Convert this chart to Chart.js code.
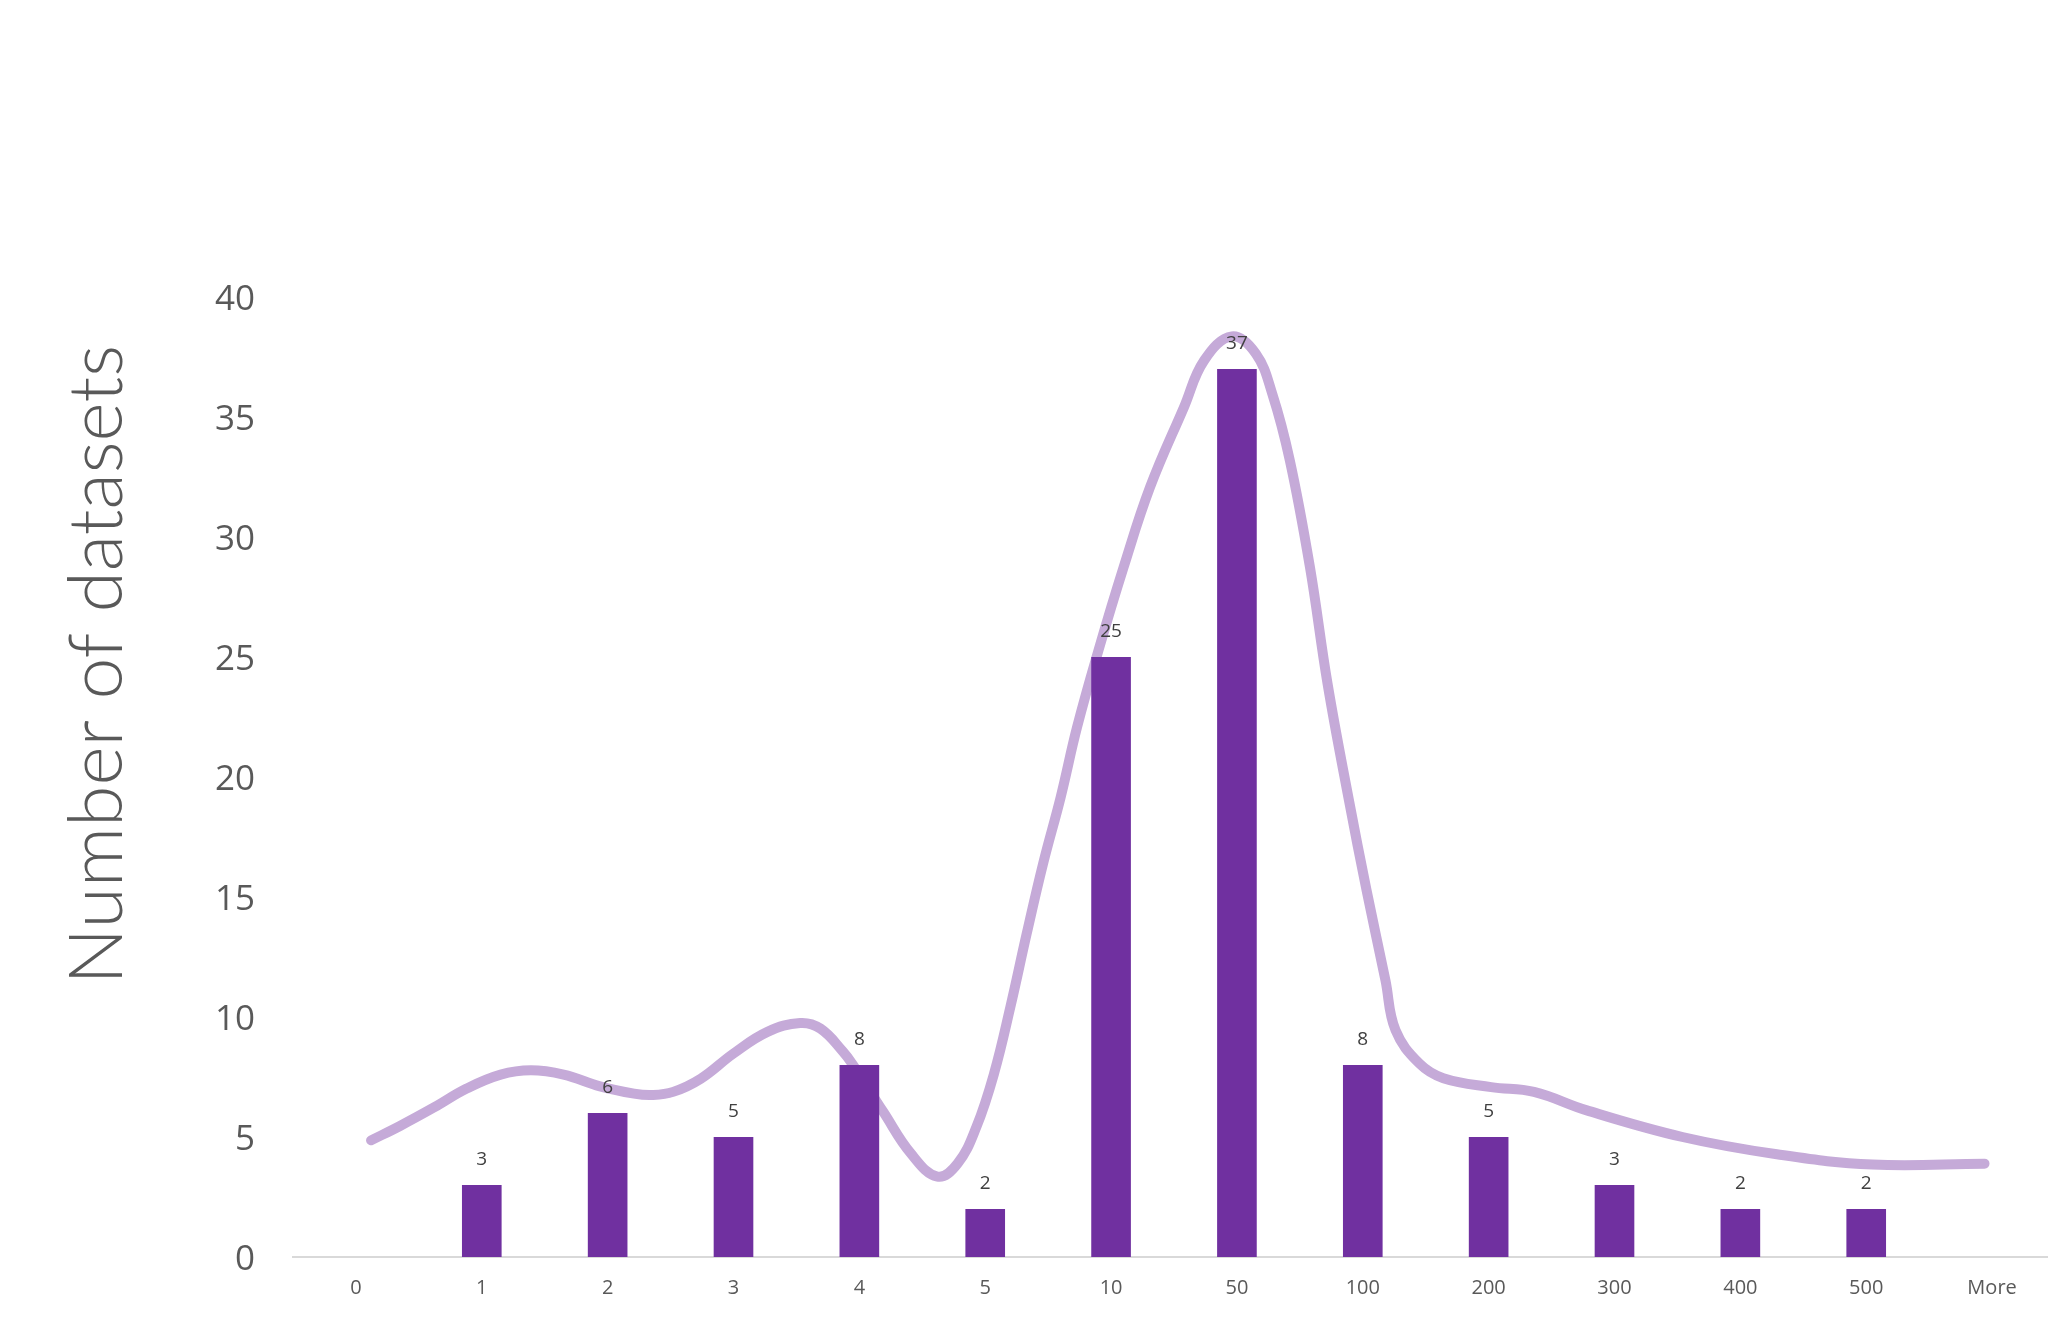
<!DOCTYPE html>
<html>
<head>
<meta charset="utf-8">
<title>Number of datasets</title>
<script src="https://cdn.jsdelivr.net/npm/chart.js@4/dist/chart.umd.min.js"></script>
<style>
  html, body { margin: 0; padding: 0; background: #ffffff; overflow: hidden; }
  #wrap { width: 2048px; height: 1326px; overflow: hidden; }
  canvas { display: block; }
</style>
</head>
<body>
<div id="wrap"><canvas id="chart" width="2060" height="1326"></canvas></div>
<script>
// Histogram bins and counts
const categories = ['0', '1', '2', '3', '4', '5', '10', '50', '100', '200', '300', '400', '500', 'More'];
const counts = [null, 3, 6, 5, 8, 2, 25, 37, 8, 5, 3, 2, 2, null];

// Smoothed trend curve, x in bin-index units
const trendX = [0.12, 0.35, 0.62, 0.88, 1.15, 1.39, 1.65, 1.94, 2.21, 2.35, 2.52, 2.74, 3.00, 3.27, 3.53, 3.69, 3.87, 3.95, 4.19, 4.41, 4.62, 4.78, 4.93, 5.07, 5.20, 5.33, 5.46, 5.60, 5.73, 5.90, 6.10, 6.31, 6.58, 6.74, 6.96, 7.15, 7.28, 7.42, 7.58, 7.72, 7.89, 8.03, 8.18, 8.26, 8.45, 8.64, 9.02, 9.36, 9.78, 10.54, 11.29, 12.05, 12.94];
const trendY = [4.86, 5.46, 6.23, 7.02, 7.60, 7.78, 7.60, 7.11, 6.81, 6.75, 6.88, 7.43, 8.48, 9.38, 9.75, 9.52, 8.56, 8.00, 6.05, 4.31, 3.35, 3.89, 5.42, 7.64, 10.42, 13.48, 16.39, 19.17, 22.08, 25.28, 28.75, 32.08, 35.42, 37.36, 38.36, 37.64, 35.98, 33.20, 28.75, 23.89, 19.03, 15.28, 11.53, 9.45, 8.06, 7.45, 7.08, 6.88, 6.11, 5.00, 4.28, 3.85, 3.89];

const yMax = 40;
const yStep = 5;
const yTitle = 'Number of datasets';

const trendPoints = trendX.map((x, i) => ({ x: x, y: trendY[i] }));

const textGrey = '#595959';
const barPurple = '#7030A0';
const curveLilac = '#C5AAD8';

// Value labels above each bar
const barValueLabels = {
  id: 'barValueLabels',
  afterDatasetsDraw(chart) {
    const meta = chart.getDatasetMeta(0);
    const ctx = chart.ctx;
    ctx.save();
    ctx.font = '19px "Open Sans", sans-serif';
    ctx.fillStyle = '#404040';
    ctx.textAlign = 'center';
    ctx.textBaseline = 'middle';
    meta.data.forEach((bar, i) => {
      const v = counts[i];
      if (v === null || v === undefined) return;
      ctx.fillText(String(v), bar.x, bar.y - 25);
    });
    ctx.restore();
  }
};

// Rotated y-axis title
const yAxisTitle = {
  id: 'yAxisTitle',
  afterDraw(chart) {
    const area = chart.chartArea;
    const ctx = chart.ctx;
    ctx.save();
    ctx.translate(area.left - 171, area.top + (area.bottom - area.top) * 0.383);
    ctx.rotate(-Math.PI / 2);
    ctx.font = '300 75px Lato, "Open Sans", sans-serif';
    ctx.fillStyle = textGrey;
    ctx.textAlign = 'center';
    ctx.textBaseline = 'alphabetic';
    ctx.fillText(yTitle, 0, 0);
    ctx.restore();
  }
};

new Chart(document.getElementById('chart'), {
  type: 'bar',
  data: {
    labels: categories,
    datasets: [
      {
        type: 'bar',
        data: counts,
        backgroundColor: barPurple,
        borderWidth: 0,
        grouped: false,
        categoryPercentage: 1,
        barPercentage: 0.315,
        xAxisID: 'x',
        yAxisID: 'y',
        order: 0
      },
      {
        type: 'line',
        data: trendPoints,
        borderColor: curveLilac,
        borderWidth: 10,
        borderCapStyle: 'round',
        borderJoinStyle: 'round',
        tension: 0.4,
        pointRadius: 0,
        fill: false,
        clip: false,
        xAxisID: 'xl',
        yAxisID: 'y',
        order: 1
      }
    ]
  },
  options: {
    responsive: false,
    animation: false,
    events: [],
    layout: { padding: { top: 297, right: 5, bottom: 0, left: 0 } },
    plugins: {
      legend: { display: false },
      tooltip: { enabled: false },
      title: { display: false }
    },
    scales: {
      x: {
        type: 'category',
        offset: true,
        grid: { display: false, drawTicks: false },
        border: { display: true, color: '#D9D9D9', width: 2 },
        ticks: {
          color: textGrey,
          padding: 19,
          maxRotation: 0,
          autoSkip: false,
          font: { family: '"Open Sans", sans-serif', size: 20 }
        },
        afterFit(scale) { scale.height = 69; }
      },
      xl: {
        type: 'linear',
        display: false,
        offset: false,
        position: 'bottom',
        min: -0.5,
        max: categories.length - 0.5
      },
      y: {
        type: 'linear',
        min: 0,
        max: yMax,
        grid: { display: false, drawTicks: false },
        border: { display: false },
        ticks: {
          stepSize: yStep,
          color: textGrey,
          padding: 38,
          labelOffset: 3,
          font: { family: '"Open Sans", sans-serif', size: 35 }
        },
        afterFit(scale) { scale.width = 293; }
      }
    }
  },
  plugins: [barValueLabels, yAxisTitle]
});
</script>
</body>
</html>
